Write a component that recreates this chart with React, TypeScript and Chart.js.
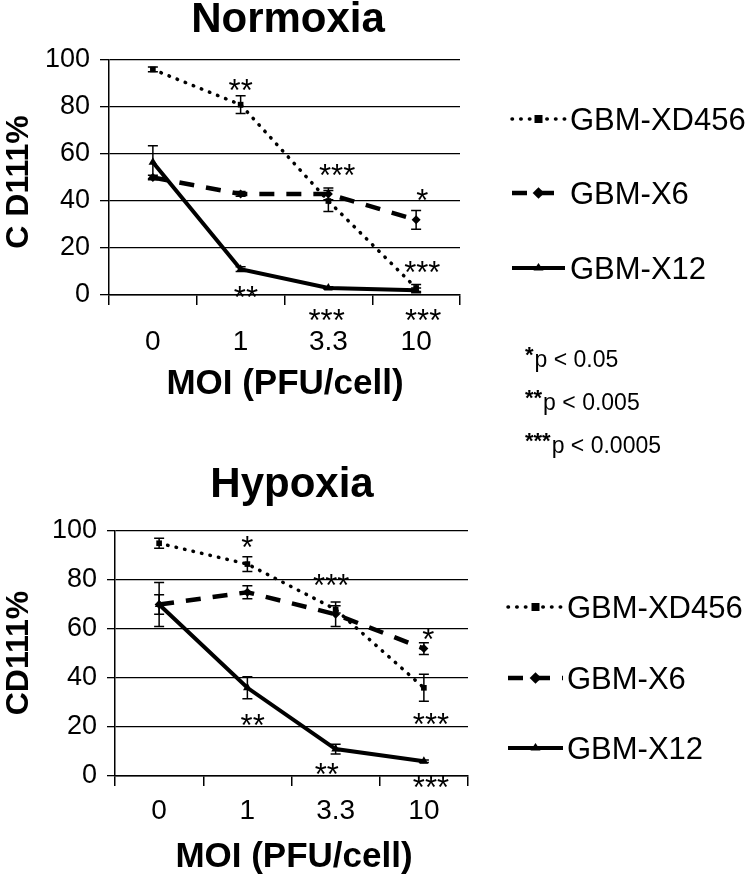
import React, { useEffect, useRef } from 'react';
import { Chart, registerables } from 'chart.js';

Chart.register(...registerables);

// ---------- data ----------
const categories = ['0', '1', '3.3', '10'];
const seriesLabels = ['GBM-XD456', 'GBM-X6', 'GBM-X12'];

const normoxiaXD456 = [96, 81, 40, 3];
const normoxiaXD456Err = [1, 3.8, 4.5, 1.5];
const normoxiaX6 = [50, 43, 43, 32];
const normoxiaX6Err = [1, 1, 2.5, 4];
const normoxiaX12 = [56.5, 11, 3, 2];
const normoxiaX12Err = [7, 1, 0.5, 1];

const hypoxiaXD456 = [95, 86.5, 68, 36];
const hypoxiaXD456Err = [2, 3, 1.5, 5.5];
const hypoxiaX6 = [70, 75, 66, 52];
const hypoxiaX6Err = [4, 2.7, 5, 2.4];
const hypoxiaX12 = [70, 36, 11, 6];
const hypoxiaX12Err = [9, 4.5, 2, 0.5];

// significance marks: x = category position, y = value position
const normoxiaStars = [
  { x: 1, y: 90, text: '**' },
  { x: 2.1, y: 54, text: '***' },
  { x: 3.07, y: 43.4, text: '*' },
  { x: 3.07, y: 12.8, text: '***' },
  { x: 1.06, y: 2, text: '**' },
  { x: 1.98, y: -7.7, text: '***' },
  { x: 3.08, y: -7.7, text: '***' },
];
const hypoxiaStars = [
  { x: 1, y: 96.3, text: '*' },
  { x: 1.95, y: 80.8, text: '***' },
  { x: 3.05, y: 58.8, text: '*' },
  { x: 3.08, y: 24, text: '***' },
  { x: 1.06, y: 23.7, text: '**' },
  { x: 1.9, y: 3.7, text: '**' },
  { x: 3.08, y: -1.6, text: '***' },
];

const pLegendStars = ['*', '**', '***'];
const pLegendTexts = ['p < 0.05', 'p < 0.005', 'p < 0.0005'];

// ---------- styling / layout ----------
const FONT = "'Liberation Sans', Arial, Helvetica, sans-serif";

const topLayout = {
  height: 480, canvasTop: 0,
  left: 109, top: 60, right: 460, bottom: 295,
  xTickPad: 20, yTickPad: 10, yTickLen: 9,
  title: 'Normoxia', titleX: 288, titleBase: 32,
  xTitle: 'MOI (PFU/cell)', xTitleX: 285, xTitleBase: 394,
  yTitle: 'C D111%', yTitleX: 28, yTitleY: 182,
  legendYs: [119, 193, 268], legendX1: 512, legendX2: 565, legendTextX: 570,
  pLegend: { x: 525, baselines: [367, 410, 453] },
};
const bottomLayout = {
  height: 434, canvasTop: 440,
  left: 115, top: 91, right: 468, bottom: 336,
  xTickPad: 8, yTickPad: 10, yTickLen: 8,
  title: 'Hypoxia', titleX: 292, titleBase: 57,
  xTitle: 'MOI (PFU/cell)', xTitleX: 294, xTitleBase: 427,
  yTitle: 'CD111%', yTitleX: 28, yTitleY: 213,
  legendYs: [167, 238, 308], legendX1: 508, legendX2: 563, legendTextX: 567,
  pLegend: null as any,
};

const seriesStyles = [
  { borderWidth: 3.5, borderDash: [0.5, 8.2], borderCapStyle: 'round', pointStyle: 'rect', pointRadius: 4 },
  { borderWidth: 4.5, borderDash: [15, 12], borderCapStyle: 'butt', pointStyle: 'rectRot', pointRadius: 4.5 },
  { borderWidth: 4, borderDash: [] as number[], borderCapStyle: 'butt', pointStyle: 'triangle', pointRadius: 5 },
];

function drawMarker(ctx: CanvasRenderingContext2D, style: string, x: number, y: number, r: number) {
  ctx.beginPath();
  if (style === 'rect') {
    ctx.rect(x - r, y - r, 2 * r, 2 * r);
  } else if (style === 'rectRot') {
    const d = r * 1.3;
    ctx.moveTo(x, y - d); ctx.lineTo(x + d, y); ctx.lineTo(x, y + d); ctx.lineTo(x - d, y); ctx.closePath();
  } else if (style === 'triangle') {
    const h = r * 1.5;
    ctx.moveTo(x, y - h * 0.66); ctx.lineTo(x + r, y + h * 0.34); ctx.lineTo(x - r, y + h * 0.34); ctx.closePath();
  } else {
    ctx.arc(x, y, r, 0, Math.PI * 2);
  }
  ctx.fill();
}

const annotPlugin = {
  id: 'annot',
  afterDatasetsDraw(chart: any) {
    const ctx = chart.ctx as CanvasRenderingContext2D;
    const xs = chart.scales.x;
    const ys = chart.scales.y;
    ctx.save();
    ctx.strokeStyle = '#000';
    ctx.lineWidth = 1.5;
    ctx.setLineDash([]);
    chart.data.datasets.forEach((ds: any) => {
      ds.data.forEach((v: number, i: number) => {
        const e = ds.errors[i];
        if (!e) return;
        const x = xs.getPixelForValue(i);
        const y1 = ys.getPixelForValue(v + e);
        const y2 = ys.getPixelForValue(v - e);
        ctx.beginPath();
        ctx.moveTo(x, y1); ctx.lineTo(x, y2);
        ctx.moveTo(x - 5, y1); ctx.lineTo(x + 5, y1);
        ctx.moveTo(x - 5, y2); ctx.lineTo(x + 5, y2);
        ctx.stroke();
      });
    });
    ctx.restore();
  },
  afterDraw(chart: any, _args: any, o: any) {
    const ctx = chart.ctx as CanvasRenderingContext2D;
    const xs = chart.scales.x;
    const ys = chart.scales.y;
    const L = o.layout;
    ctx.save();
    ctx.fillStyle = '#000';
    ctx.textBaseline = 'alphabetic';

    // significance stars
    ctx.font = `31px ${FONT}`;
    ctx.textAlign = 'center';
    o.stars.forEach((s: any) => {
      ctx.fillText(s.text, xs.getPixelForValue(s.x), ys.getPixelForValue(s.y) + 0.58 * 31);
    });

    // title
    ctx.font = `bold 42px ${FONT}`;
    ctx.fillText(L.title, L.titleX, L.titleBase);

    // x title
    ctx.font = `bold 35px ${FONT}`;
    ctx.fillText(L.xTitle, L.xTitleX, L.xTitleBase);

    // y title
    ctx.save();
    ctx.translate(L.yTitleX, L.yTitleY);
    ctx.rotate(-Math.PI / 2);
    ctx.font = `bold 32px ${FONT}`;
    ctx.fillText(L.yTitle, 0, 0);
    ctx.restore();

    // legend
    chart.data.datasets.forEach((ds: any, di: number) => {
      const ly = L.legendYs[di];
      ctx.save();
      ctx.strokeStyle = '#000';
      ctx.lineWidth = ds.borderWidth;
      ctx.setLineDash(ds.borderDash || []);
      ctx.lineCap = ds.borderCapStyle || 'butt';
      ctx.beginPath();
      ctx.moveTo(L.legendX1, ly);
      ctx.lineTo(L.legendX2, ly);
      ctx.stroke();
      ctx.setLineDash([]);
      drawMarker(ctx, ds.pointStyle, (L.legendX1 + L.legendX2) / 2, ly, ds.pointRadius);
      ctx.font = `31px ${FONT}`;
      ctx.textAlign = 'left';
      ctx.fillText(ds.label, L.legendTextX, ly + 11);
      ctx.restore();
    });

    // p-value legend
    if (L.pLegend) {
      ctx.textAlign = 'left';
      L.pLegend.baselines.forEach((b: number, i: number) => {
        ctx.font = `bold 22px ${FONT}`;
        const st = pLegendStars[i];
        ctx.fillText(st, L.pLegend.x, b - 5);
        const w = ctx.measureText(st).width;
        ctx.font = `23px ${FONT}`;
        ctx.fillText(pLegendTexts[i], L.pLegend.x + w + 1, b);
      });
    }
    ctx.restore();
  },
};

function buildConfig(L: any, values: number[][], errors: number[][], stars: any[]) {
  const xScaleH = 60;
  return {
    type: 'line' as const,
    data: {
      labels: categories,
      datasets: values.map((vals, i) => ({
        label: seriesLabels[i],
        data: vals,
        errors: errors[i],
        borderColor: '#000',
        backgroundColor: '#000',
        pointBackgroundColor: '#000',
        pointBorderColor: '#000',
        pointBorderWidth: 0,
        tension: 0,
        fill: false,
        ...seriesStyles[i],
      })),
    },
    options: {
      responsive: false,
      animation: false,
      devicePixelRatio: 1,
      layout: {
        padding: { left: 0, top: L.top, right: 750 - L.right, bottom: L.height - L.bottom - xScaleH },
      },
      plugins: {
        legend: { display: false },
        title: { display: false },
        tooltip: { enabled: false },
        annot: { layout: L, stars },
      },
      scales: {
        x: {
          type: 'category',
          offset: true,
          afterFit: (s: any) => { s.height = xScaleH; },
          grid: { offset: true, drawOnChartArea: false, drawTicks: true, tickLength: 10, color: '#000', lineWidth: 1.5 },
          border: { display: true, color: '#000', width: 1.5 },
          ticks: { font: { family: FONT, size: 28 }, color: '#000', padding: L.xTickPad, maxRotation: 0, autoSkip: false },
        },
        y: {
          min: 0,
          max: 100,
          afterFit: (s: any) => { s.width = L.left; },
          grid: { color: '#000', lineWidth: 1.3, drawTicks: true, tickLength: L.yTickLen },
          border: { display: true, color: '#000', width: 1.5 },
          ticks: { stepSize: 20, font: { family: FONT, size: 27 }, color: '#000', padding: L.yTickPad },
        },
      },
    },
    plugins: [annotPlugin],
  };
}

function ChartCanvas({ L, values, errors, stars }: any) {
  const ref = useRef<HTMLCanvasElement>(null);
  useEffect(() => {
    const chart = new Chart(ref.current as HTMLCanvasElement, buildConfig(L, values, errors, stars) as any);
    return () => chart.destroy();
  }, []);
  return (
    <canvas
      ref={ref}
      width={750}
      height={L.height}
      style={{ position: 'absolute', left: 0, top: L.canvasTop, width: 750, height: L.height }}
    />
  );
}

export default function App() {
  return (
    <div style={{ position: 'absolute', left: 0, top: 0, width: 750, height: 874, background: '#fff' }}>
      <ChartCanvas
        L={topLayout}
        values={[normoxiaXD456, normoxiaX6, normoxiaX12]}
        errors={[normoxiaXD456Err, normoxiaX6Err, normoxiaX12Err]}
        stars={normoxiaStars}
      />
      <ChartCanvas
        L={bottomLayout}
        values={[hypoxiaXD456, hypoxiaX6, hypoxiaX12]}
        errors={[hypoxiaXD456Err, hypoxiaX6Err, hypoxiaX12Err]}
        stars={hypoxiaStars}
      />
    </div>
  );
}
